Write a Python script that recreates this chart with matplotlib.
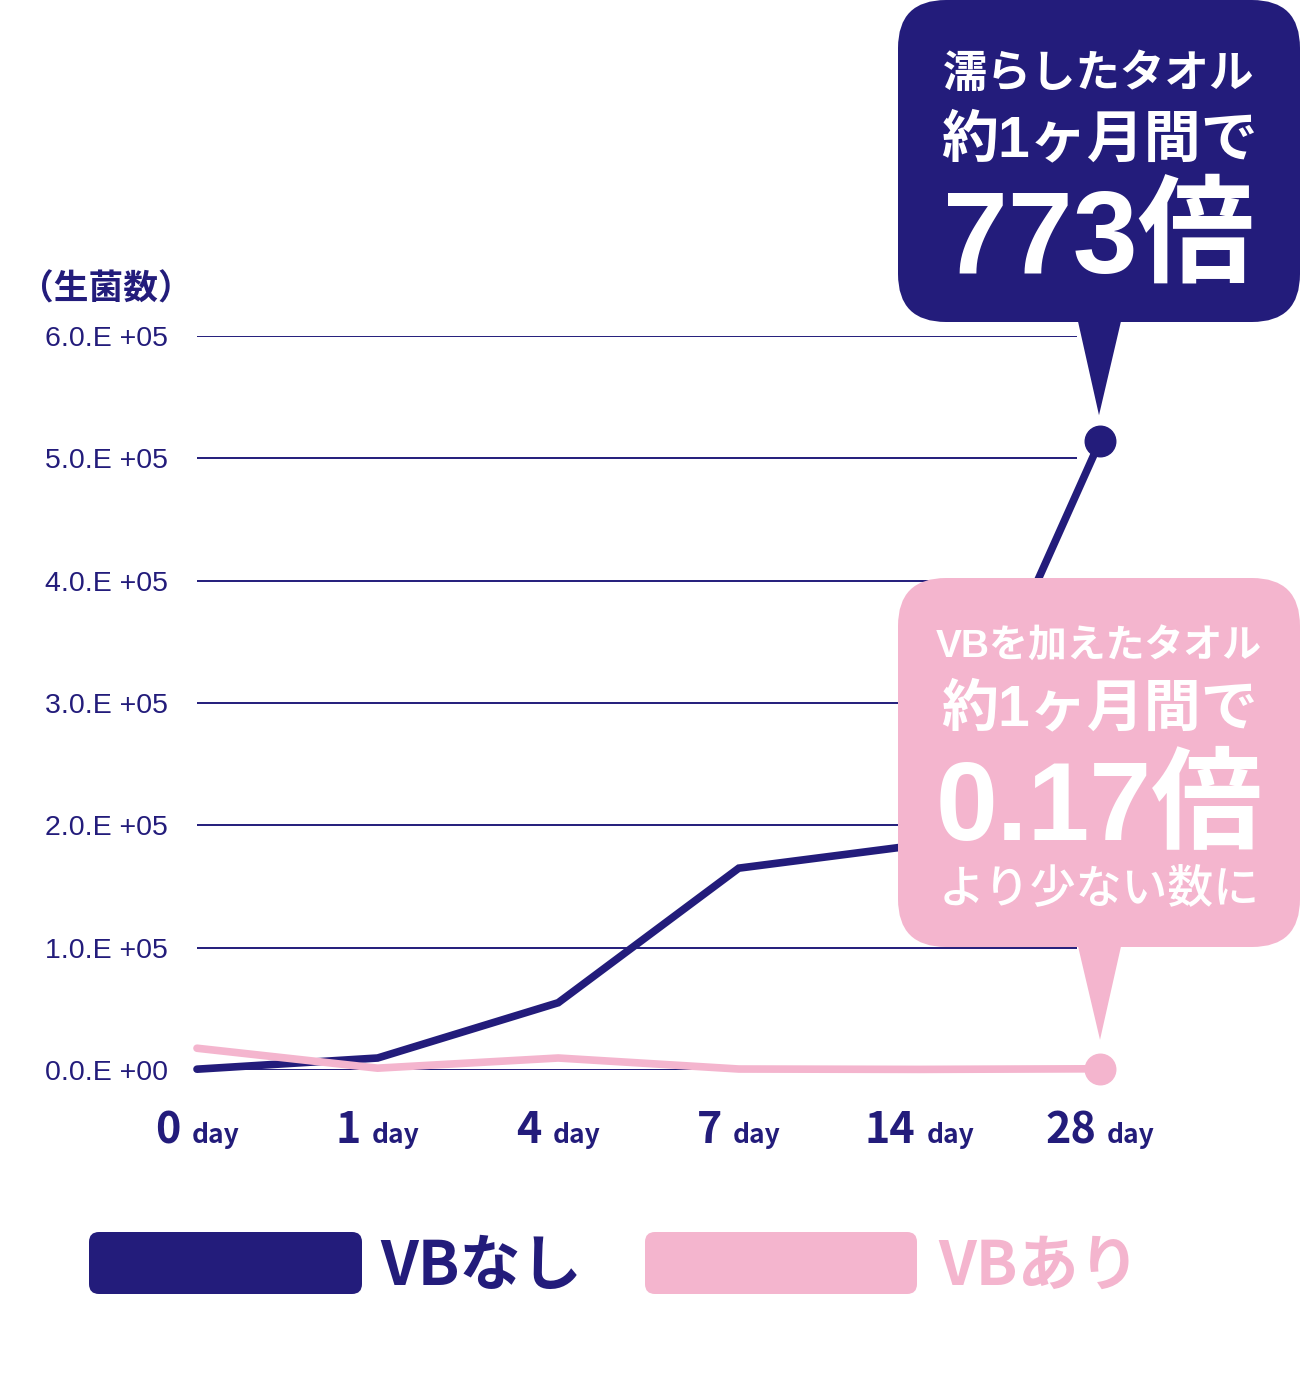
import matplotlib
matplotlib.use('Agg')
import matplotlib.pyplot as plt
from matplotlib.patches import FancyBboxPatch, Polygon
from matplotlib.offsetbox import TextArea, HPacker, AnnotationBbox

plt.rcParams['font.family'] = ['Noto Sans CJK JP', 'DejaVu Sans']

# data
days = ['0', '1', '4', '7', '14', '28']
vb_nashi = [665, 9800, 55000, 165000, 184000, 514000]
vb_ari = [17800, 1500, 9800, 800, 500, 1000]
yticks = [0, 1e5, 2e5, 3e5, 4e5, 5e5, 6e5]
ytick_labels = ['0.0.E +00', '1.0.E +05', '2.0.E +05', '3.0.E +05',
                '4.0.E +05', '5.0.E +05', '6.0.E +05']

NAVY = '#231c7b'
PINK = '#f4b5ce'
W, H = 1300, 1384
LAT = ['Liberation Sans', 'Noto Sans CJK JP']

fig = plt.figure(figsize=(W / 100, H / 100), dpi=100)
ax = fig.add_axes([197 / W, (H - 1070) / H, (1100 - 197) / W, 734 / H])
xs = list(range(len(days)))
ax.set_xlim(0, len(days) - 1)
ax.set_ylim(0, 6e5)
for s in ax.spines.values():
    s.set_visible(False)

ax.hlines(yticks, 0, 4.87, color=NAVY, lw=1.4, zorder=1)
ax.plot(xs, vb_nashi, color=NAVY, lw=5.5, solid_capstyle='round',
        solid_joinstyle='miter', marker='o', markevery=[5], markersize=22,
        clip_on=False, zorder=3)
ax.plot(xs, vb_ari, color=PINK, lw=5.5, solid_capstyle='round',
        solid_joinstyle='miter', marker='o', markevery=[5], markersize=22,
        clip_on=False, zorder=4)

ax.set_yticks(yticks)
ax.set_yticklabels(ytick_labels, fontsize=20.5, color=NAVY, family=['Liberation Sans'])
ax.tick_params(axis='y', length=0, pad=21)
ax.set_xticks([])

# x labels: big number + small "day"
for i, d in enumerate(days):
    num = TextArea(d, textprops=dict(fontsize=31, fontweight='bold', color=NAVY,
                                     family=['Noto Sans CJK JP']))
    day = TextArea('day', textprops=dict(fontsize=19, fontweight='bold', color=NAVY,
                                         family=['Noto Sans CJK JP']))
    box = HPacker(children=[num, day], align='baseline', pad=0, sep=8)
    ab = AnnotationBbox(box, (i, -0.082), xycoords=('data', 'axes fraction'),
                        box_alignment=(0.5, 0.5), frameon=False, annotation_clip=False)
    ax.add_artist(ab)

fig.text(106 / W, 1 - 289 / H, '（生菌数）', fontsize=25, fontweight='bold',
         color=NAVY, ha='center', va='center')

# overlay in pixel coordinates for callouts and legend
ov = fig.add_axes([0, 0, 1, 1])
ov.set_xlim(0, W)
ov.set_ylim(H, 0)
ov.axis('off')


def to_px(x, y):
    dx, dy = ax.transData.transform((x, y))
    return dx, H - dy


def callout(y0, y1, tip, color):
    ov.add_patch(FancyBboxPatch((898, y0), 402, y1 - y0,
                                boxstyle='round,pad=0,rounding_size=48',
                                fc=color, ec='none'))
    tx, ty = tip
    ov.add_patch(Polygon([(1077, y1 - 5), (1122, y1 - 5), (tx, ty)],
                         closed=True, fc=color, ec='none'))


nx, ny = to_px(5, vb_nashi[-1])
callout(0, 322, (nx - 1, ny - 26), NAVY)
px, py = to_px(5, vb_ari[-1])
callout(578, 947, (px, py - 29), PINK)

cx = 1099
ov.text(cx, 74, '濡らしたタオル', fontsize=32, fontweight='bold', color='white',
        ha='center', va='center')
ov.text(cx, 141, '約1ヶ月間で', fontsize=41, fontweight='bold', color='white',
        ha='center', va='center', family=LAT)
ov.text(cx, 242, '773倍', fontsize=84, fontweight='bold', color='white',
        ha='center', va='center', family=LAT)

ov.text(cx, 648, 'VBを加えたタオル', fontsize=28, fontweight='bold', color='white',
        ha='center', va='center', family=LAT)
ov.text(cx, 710, '約1ヶ月間で', fontsize=41, fontweight='bold', color='white',
        ha='center', va='center', family=LAT)
ov.text(cx, 811, '0.17倍', fontsize=80, fontweight='bold', color='white',
        ha='center', va='center', family=LAT)
ov.text(cx, 889, 'より少ない数に', fontsize=33, fontweight='medium', color='white',
        ha='center', va='center')

# legend
ov.add_patch(FancyBboxPatch((89, 1232), 273, 62, boxstyle='round,pad=0,rounding_size=10',
                            fc=NAVY, ec='none'))
ov.text(380, 1267, 'VBなし', fontsize=44, fontweight='bold', color=NAVY,
        ha='left', va='center')
ov.add_patch(FancyBboxPatch((645, 1232), 272, 62, boxstyle='round,pad=0,rounding_size=10',
                            fc=PINK, ec='none'))
ov.text(938, 1267, 'VBあり', fontsize=44, fontweight='bold', color=PINK,
        ha='left', va='center')

fig.savefig('out.png', dpi=100)
